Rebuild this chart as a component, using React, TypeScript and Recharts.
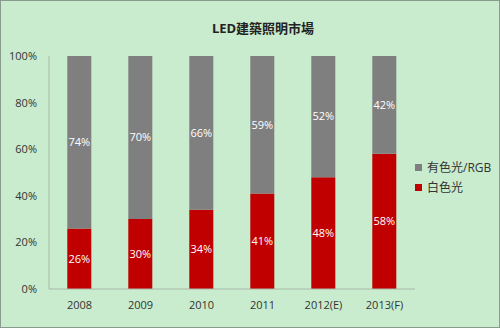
import React from "react";
import { BarChart, Bar, XAxis, YAxis, LabelList } from "recharts";

const years = ["2008", "2009", "2010", "2011", "2012(E)", "2013(F)"];
const white = [26, 30, 34, 41, 48, 58];
const colored = [74, 70, 66, 59, 52, 42];
const yTicks = [0, 20, 40, 60, 80, 100];

const data = years.map((y, i) => ({ year: y, white: white[i], colored: colored[i] }));

const font = '"Open Sans", "Noto Sans CJK TC", sans-serif';

const legendItems = [
  { name: "有色光/RGB", color: "#7f7f7f" },
  { name: "白色光", color: "#c00000" },
];

export default function App() {
  return (
    <div
      style={{
        position: "fixed",
        left: 0,
        top: 0,
        width: 500,
        height: 328,
        background: "#c9ecce",
        border: "1px solid #8a9a8c",
        boxSizing: "border-box",
        fontFamily: font,
      }}
    >
      <div
        style={{
          position: "absolute",
          top: 17,
          left: 0,
          width: 524,
          textAlign: "center",
          fontSize: 13,
          fontWeight: "bold",
          color: "#222",
        }}
      >
        LED建築照明市場
      </div>
      <div style={{ position: "absolute", left: 414, top: 156, fontSize: 12, color: "#333" }}>
        {legendItems.map((it) => (
          <div key={it.name} style={{ display: "flex", alignItems: "center", height: 20 }}>
            <span style={{ width: 7, height: 7, background: it.color, marginRight: 5, display: "inline-block" }} />
            {it.name}
          </div>
        ))}
      </div>
      <BarChart
        width={498}
        height={326}
        data={data}
        margin={{ top: 55, right: 84, bottom: 8, left: 0 }}
        barCategoryGap="30%"
      >
        <XAxis
          dataKey="year"
          height={30}
          tickLine={false}
          axisLine={{ stroke: "#a8b8aa" }}
          tick={{ fill: "#333", fontSize: 11, fontFamily: font }}
          tickMargin={6}
        />
        <YAxis
          domain={[0, 100]}
          ticks={yTicks}
          width={48}
          tickLine={false}
          axisLine={{ stroke: "#a8b8aa" }}
          tickFormatter={(v) => v + "%"}
          tick={{ fill: "#333", fontSize: 11, fontFamily: font }}
          tickMargin={6}
        />
        <Bar dataKey="white" stackId="a" fill="#c00000" isAnimationActive={false}>
          <LabelList dataKey="white" position="center" formatter={(v: any) => v + "%"} fill="#fff" fontSize={11} fontFamily={font} />
        </Bar>
        <Bar dataKey="colored" stackId="a" fill="#7f7f7f" isAnimationActive={false}>
          <LabelList dataKey="colored" position="center" formatter={(v: any) => v + "%"} fill="#fff" fontSize={11} fontFamily={font} />
        </Bar>
      </BarChart>
    </div>
  );
}
